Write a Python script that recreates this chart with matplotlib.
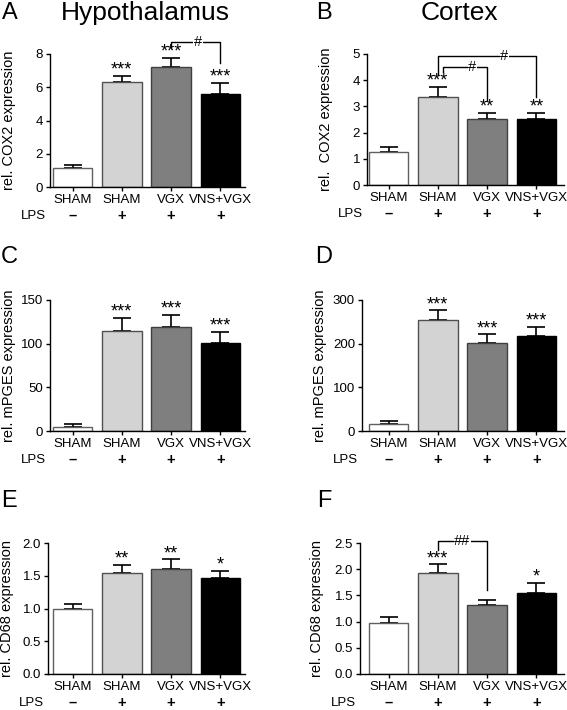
import matplotlib
matplotlib.use("Agg")
import matplotlib.pyplot as plt

plt.rcParams['font.family'] = ['Liberation Sans', 'DejaVu Sans']

groups = ['SHAM', 'SHAM', 'VGX', 'VNS+VGX']
lps = ['–', '+', '+', '+']
colors = ['white', '#d3d3d3', '#7f7f7f', 'black']
edges = ['#606060', '#505050', '#404040', 'black']

# values (mean, SEM)
cox2_hyp = [1.17, 6.34, 7.19, 5.58]
cox2_hyp_sem = [0.15, 0.36, 0.56, 0.67]
cox2_ctx = [1.25, 3.37, 2.51, 2.51]
cox2_ctx_sem = [0.19, 0.38, 0.23, 0.23]
mpges_hyp = [5, 114, 119, 101]
mpges_hyp_sem = [3.5, 15, 14, 12.5]
mpges_ctx = [15, 254, 201, 218]
mpges_ctx_sem = [9, 22, 20, 21]
cd68_hyp = [1.0, 1.54, 1.6, 1.47]
cd68_hyp_sem = [0.07, 0.13, 0.15, 0.11]
cd68_ctx = [0.97, 1.93, 1.31, 1.54]
cd68_ctx_sem = [0.11, 0.16, 0.11, 0.2]

stars_A = ['', '***', '***', '***']
stars_B = ['', '***', '**', '**']
stars_C = ['', '***', '***', '***']
stars_D = ['', '***', '***', '***']
stars_E = ['', '**', '**', '*']
stars_F = ['', '***', '', '*']

# brackets: x_left, x_right, y_top, y_left_end, y_right_end, label, label_x
brackets_A = [(2, 3, 8.73, 8.37, 7.47, '#', 2.55)]
brackets_B = [(1, 3, 4.91, 4.2, 3.37, '#', 2.35),
              (1.1, 2, 4.52, 4.32, 3.24, '#', 1.7)]
brackets_F = [(1, 2, 2.54, 2.37, 1.6, '##', 1.5)]

W, H = 567, 710
fig = plt.figure(figsize=(W / 100, H / 100), dpi=100)
unit = 49.3


def make_axes(L, top, R, bottom, c0):
    ax = fig.add_axes([L / W, 1 - bottom / H, (R - L) / W, (bottom - top) / H])
    ax.set_xlim((L - c0) / unit, (R - c0) / unit)
    return ax


def panel(ax, vals, sem, ymax, yticks, ylabel, stars, brackets, fmt=None):
    x = range(len(vals))
    ax.bar(x, vals, width=0.8, color=colors, edgecolor=edges, linewidth=1.0, zorder=2)
    ax.errorbar(x, vals, yerr=[[0] * len(vals), sem], fmt='none', ecolor='black',
                elinewidth=1.2, capsize=6.5, capthick=1.2, zorder=1)
    ax.set_ylim(0, ymax)
    ax.set_yticks(yticks)
    if fmt:
        ax.set_yticklabels([fmt % t for t in yticks])
    ax.set_xticks(list(x))
    ax.set_xticklabels(groups)
    ax.tick_params(axis='both', direction='out', length=3, width=1, labelsize=9.5, pad=2)
    for s in ['top', 'right']:
        ax.spines[s].set_visible(False)
    for s in ['left', 'bottom']:
        ax.spines[s].set_linewidth(1.0)
    ax.set_ylabel(ylabel, fontsize=10.5)
    ax.yaxis.set_label_coords(-0.175, 0.5)
    # LPS row
    ax.annotate('LPS', xy=(0, 0), xycoords='axes fraction', xytext=(-17, -29),
                textcoords='offset pixels', ha='center', va='center', fontsize=9.5)
    for i, s in enumerate(lps):
        ax.annotate(s, xy=(i, 0), xycoords=('data', 'axes fraction'), xytext=(0, -29),
                    textcoords='offset pixels', ha='center', va='center', fontsize=10.5,
                    fontweight='bold')
    for i, s in enumerate(stars):
        if s:
            ax.annotate(s, xy=(i, vals[i] + sem[i]), xytext=(0, 1), textcoords='offset points',
                        ha='center', va='baseline', fontsize=13)
    for (x1, x2, y, y1, y2, lab, lx) in brackets:
        ax.plot([x1, x1, x2, x2], [y1, y, y, y2], color='black', lw=1.0, clip_on=False, zorder=3)
        ax.text(lx, y, lab, ha='center', va='center', fontsize=10.5, zorder=4,
                bbox=dict(fc='white', ec='none', pad=0.5))


axA = make_axes(50, 54, 245, 187, 72.5)
panel(axA, cox2_hyp, cox2_hyp_sem, 8, [0, 2, 4, 6, 8], 'rel. COX2 expression', stars_A, brackets_A)
axB = make_axes(367, 54, 564, 185, 388.5)
panel(axB, cox2_ctx, cox2_ctx_sem, 5, [0, 1, 2, 3, 4, 5], 'rel.  COX2 expression', stars_B, brackets_B)
axC = make_axes(50, 300, 245, 431, 72.5)
panel(axC, mpges_hyp, mpges_hyp_sem, 150, [0, 50, 100, 150], 'rel. mPGES expression', stars_C, [])
axD = make_axes(362, 300, 564, 431, 388.5)
panel(axD, mpges_ctx, mpges_ctx_sem, 300, [0, 100, 200, 300], 'rel. mPGES expression', stars_D, [])
axE = make_axes(48, 543, 245, 674, 72.5)
panel(axE, cd68_hyp, cd68_hyp_sem, 2.0, [0, 0.5, 1.0, 1.5, 2.0], 'rel. CD68 expression', stars_E, [], '%.1f')
axF = make_axes(360, 543, 564, 674, 388.5)
panel(axF, cd68_ctx, cd68_ctx_sem, 2.5, [0, 0.5, 1.0, 1.5, 2.0, 2.5], 'rel. CD68 expression', stars_F, brackets_F, '%.1f')

# panel letters and titles
for lab, px, py in [('A', 10, 13), ('B', 324, 13), ('C', 9, 257), ('D', 324, 257),
                    ('E', 9, 501), ('F', 324, 501)]:
    fig.text(px / W, 1 - py / H, lab, ha='center', va='center', fontsize=17)
fig.text(145 / W, 1 - 13 / H, 'Hypothalamus', ha='center', va='center', fontsize=19)
fig.text(459 / W, 1 - 13 / H, 'Cortex', ha='center', va='center', fontsize=19)

fig.savefig('out.png', dpi=100)
